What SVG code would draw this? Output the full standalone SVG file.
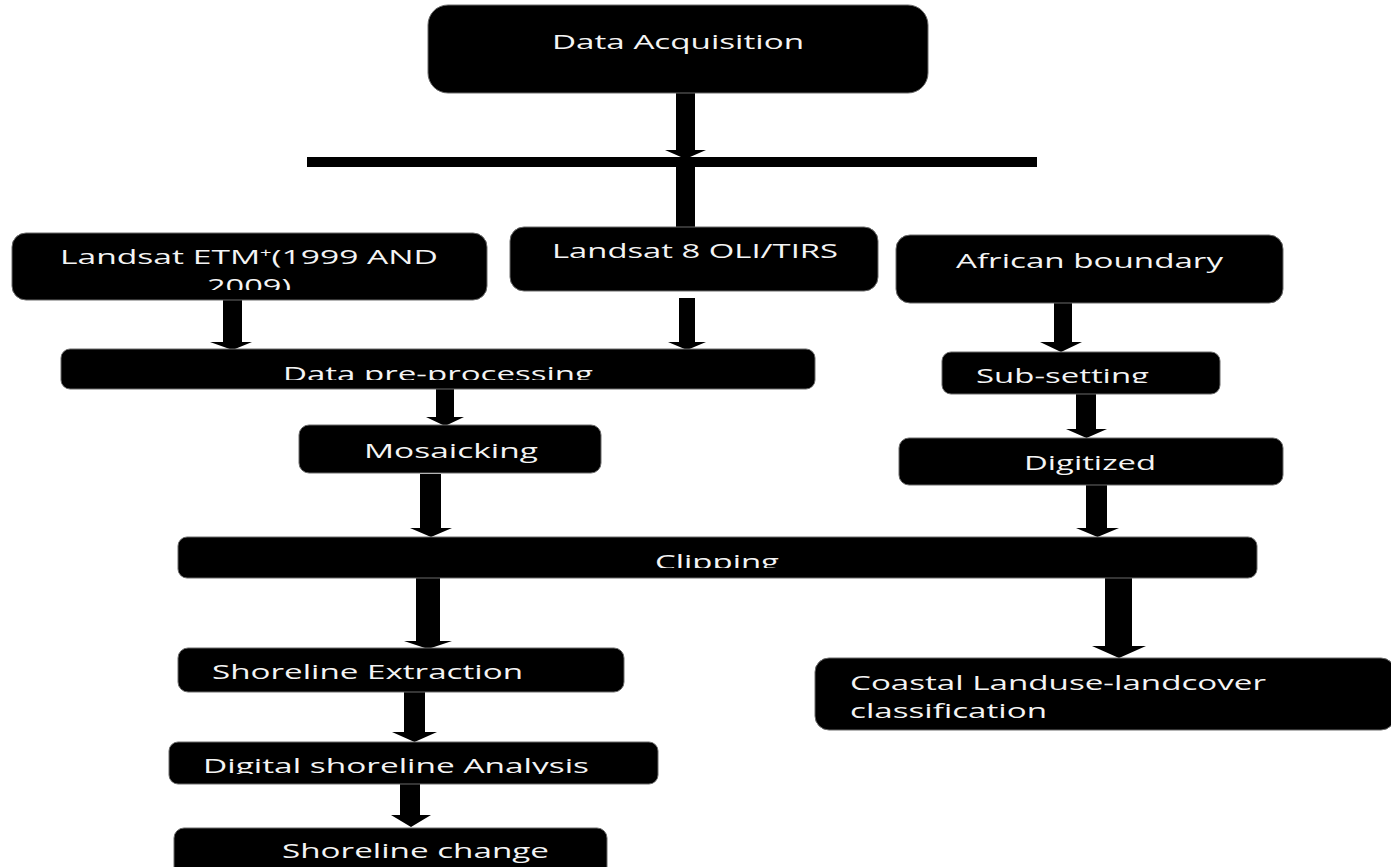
<svg xmlns="http://www.w3.org/2000/svg" width="1391" height="867" viewBox="0 0 1391 867">
<style>
.box{fill:#000;stroke:#6a6a6a;stroke-width:1}
.t{fill:#f4f4f4;font-family:"Open Sans","Noto Sans","Liberation Sans",sans-serif;font-size:20px}
.arrow{fill:#000}
</style>
<defs>
<clipPath id="c-etm"><rect x="0" y="230" width="500" height="60"/></clipPath>
<clipPath id="c-pre"><rect x="0" y="340" width="900" height="40"/></clipPath>
<clipPath id="c-sub"><rect x="900" y="340" width="400" height="43"/></clipPath>
<clipPath id="c-clip"><rect x="100" y="530" width="1200" height="38"/></clipPath>
<clipPath id="c-dsa"><rect x="100" y="740" width="600" height="34"/></clipPath>
</defs>
<rect width="1391" height="867" fill="#fff"/>
<g id="connectors">
<polygon class="arrow" points="676,93 695,93 695,150 706,150 685.5,159 665,150 676,150"/>
<rect class="arrow" x="307" y="157" width="730" height="10"/>
<rect class="arrow" x="676" y="167" width="19" height="61"/>
<polygon class="arrow" points="223,300 242,300 242,342 252,342 232.5,350 210,342 223,342"/>
<polygon class="arrow" points="679,298 695,298 695,342 706,342 687,350 668,342 679,342"/>
<polygon class="arrow" points="436,389 454,389 454,417 464,417 445,426 426,417 436,417"/>
<polygon class="arrow" points="420,474 441,474 441,528 452,528 431,537 410,528 420,528"/>
<polygon class="arrow" points="416,578 440,578 440,641 452,641 428,649 404,641 416,641"/>
<polygon class="arrow" points="404,692 425,692 425,732 437,732 414.5,742 392,732 404,732"/>
<polygon class="arrow" points="400,784 420,784 420,815 431,815 411,827 391,815 400,815"/>
<polygon class="arrow" points="1054,303 1072,303 1072,342 1082,342 1061,352 1040,342 1054,342"/>
<polygon class="arrow" points="1076,394 1096,394 1096,429 1107,429 1086.5,438 1066,429 1076,429"/>
<polygon class="arrow" points="1086,485 1107,485 1107,528 1119,528 1097.5,537 1076,528 1086,528"/>
<polygon class="arrow" points="1105,578 1132,578 1132,646 1146,646 1119,658 1092,646 1105,646"/>
</g>
<g id="data-acquisition">
<rect class="box" x="428" y="5" width="500" height="88" rx="20"/>
<text class="t" x="552" y="49" textLength="252" lengthAdjust="spacingAndGlyphs">Data Acquisition</text>
</g>
<g id="landsat-etm">
<rect class="box" x="12" y="233" width="475" height="67" rx="14"/>
<g clip-path="url(#c-etm)">
<text class="t" x="60" y="264" textLength="378" lengthAdjust="spacingAndGlyphs">Landsat ETM<tspan font-size="12" dy="-7">+</tspan><tspan dy="7">(1999 AND</tspan></text>
<text class="t" x="207" y="293" textLength="84" lengthAdjust="spacingAndGlyphs">2009)</text>
</g>
</g>
<g id="landsat-8">
<rect class="box" x="510" y="227" width="368" height="64" rx="14"/>
<text class="t" x="552" y="258" textLength="286" lengthAdjust="spacingAndGlyphs">Landsat 8 OLI/TIRS</text>
</g>
<g id="african-boundary">
<rect class="box" x="896" y="235" width="387" height="68" rx="14"/>
<text class="t" x="956" y="268" textLength="267" lengthAdjust="spacingAndGlyphs">African boundary</text>
</g>
<g id="data-preprocessing">
<rect class="box" x="61" y="349" width="754" height="40" rx="9"/>
<text class="t" x="283" y="381" textLength="310" lengthAdjust="spacingAndGlyphs" clip-path="url(#c-pre)">Data pre-processing</text>
</g>
<g id="mosaicking">
<rect class="box" x="299" y="425" width="302" height="48" rx="10"/>
<text class="t" x="364" y="458" textLength="174" lengthAdjust="spacingAndGlyphs">Mosaicking</text>
</g>
<g id="sub-setting">
<rect class="box" x="942" y="352" width="278" height="42" rx="9"/>
<text class="t" x="976" y="383" textLength="173" lengthAdjust="spacingAndGlyphs" clip-path="url(#c-sub)">Sub-setting</text>
</g>
<g id="digitized">
<rect class="box" x="899" y="438" width="384" height="47" rx="10"/>
<text class="t" x="1024" y="470" textLength="132" lengthAdjust="spacingAndGlyphs">Digitized</text>
</g>
<g id="clipping">
<rect class="box" x="178" y="537" width="1079" height="41" rx="9"/>
<text class="t" x="655" y="569" textLength="124" lengthAdjust="spacingAndGlyphs" clip-path="url(#c-clip)">Clipping</text>
</g>
<g id="shoreline-extraction">
<rect class="box" x="178" y="648" width="446" height="44" rx="10"/>
<text class="t" x="212" y="679" textLength="311" lengthAdjust="spacingAndGlyphs">Shoreline Extraction</text>
</g>
<g id="digital-shoreline-analysis">
<rect class="box" x="169" y="742" width="489" height="42" rx="9"/>
<text class="t" x="203" y="773" textLength="386" lengthAdjust="spacingAndGlyphs" clip-path="url(#c-dsa)">Digital shoreline Analysis</text>
</g>
<g id="shoreline-change">
<rect class="box" x="174" y="828" width="433" height="60" rx="10"/>
<text class="t" x="282" y="858" textLength="267" lengthAdjust="spacingAndGlyphs">Shoreline change</text>
</g>
<g id="coastal-lulc">
<rect class="box" x="815" y="658" width="580" height="72" rx="14"/>
<text class="t" x="850" y="690" textLength="416" lengthAdjust="spacingAndGlyphs">Coastal Landuse-landcover</text>
<text class="t" x="850" y="718" textLength="197" lengthAdjust="spacingAndGlyphs">classification</text>
</g>
</svg>
